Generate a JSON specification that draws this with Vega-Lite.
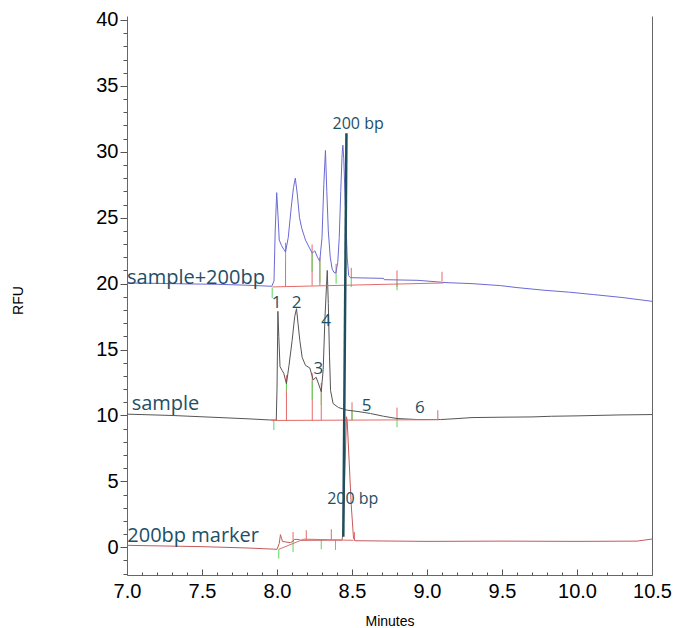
{
  "$schema": "https://vega.github.io/schema/vega-lite/v6.json",
  "width": 525,
  "height": 559,
  "autosize": {"type": "none"},
  "padding": {"left": 127, "top": 16, "right": 26, "bottom": 53},
  "background": "white",
  "config": {"view": {"stroke": null}, "axis": {"grid": false}},
  "resolve": {"axis": {"x": "independent", "y": "independent"}, "scale": {"color": "independent"}},
  "datasets": {
    "traces": [
      {"s": "plus", "t": 7.0, "v": 20.05}, {"s": "plus", "t": 7.2, "v": 20.02}, {"s": "plus", "t": 7.4, "v": 19.98}, {"s": "plus", "t": 7.6, "v": 19.95},
      {"s": "plus", "t": 7.8, "v": 19.88}, {"s": "plus", "t": 7.965, "v": 19.8}, {"s": "plus", "t": 7.98, "v": 20.2}, {"s": "plus", "t": 7.988, "v": 24.0},
      {"s": "plus", "t": 7.998, "v": 26.9}, {"s": "plus", "t": 8.005, "v": 25.5}, {"s": "plus", "t": 8.015, "v": 23.3}, {"s": "plus", "t": 8.03, "v": 22.9},
      {"s": "plus", "t": 8.045, "v": 22.6}, {"s": "plus", "t": 8.057, "v": 22.4}, {"s": "plus", "t": 8.075, "v": 23.5}, {"s": "plus", "t": 8.095, "v": 25.8},
      {"s": "plus", "t": 8.11, "v": 27.3}, {"s": "plus", "t": 8.122, "v": 28.0}, {"s": "plus", "t": 8.135, "v": 26.8}, {"s": "plus", "t": 8.15, "v": 25.0},
      {"s": "plus", "t": 8.165, "v": 24.2}, {"s": "plus", "t": 8.19, "v": 23.3}, {"s": "plus", "t": 8.217, "v": 22.7}, {"s": "plus", "t": 8.235, "v": 22.3},
      {"s": "plus", "t": 8.252, "v": 22.5}, {"s": "plus", "t": 8.27, "v": 22.0}, {"s": "plus", "t": 8.285, "v": 21.7}, {"s": "plus", "t": 8.3, "v": 23.5},
      {"s": "plus", "t": 8.312, "v": 27.5}, {"s": "plus", "t": 8.323, "v": 30.1}, {"s": "plus", "t": 8.332, "v": 27.0}, {"s": "plus", "t": 8.342, "v": 24.0},
      {"s": "plus", "t": 8.355, "v": 22.0}, {"s": "plus", "t": 8.368, "v": 21.1}, {"s": "plus", "t": 8.38, "v": 20.85}, {"s": "plus", "t": 8.392, "v": 20.8},
      {"s": "plus", "t": 8.405, "v": 21.6}, {"s": "plus", "t": 8.415, "v": 23.5}, {"s": "plus", "t": 8.425, "v": 27.0}, {"s": "plus", "t": 8.434, "v": 29.8},
      {"s": "plus", "t": 8.439, "v": 30.5}, {"s": "plus", "t": 8.445, "v": 29.5}, {"s": "plus", "t": 8.455, "v": 26.2}, {"s": "plus", "t": 8.468, "v": 22.0},
      {"s": "plus", "t": 8.478, "v": 20.6}, {"s": "plus", "t": 8.49, "v": 20.45}, {"s": "plus", "t": 8.71, "v": 20.4}, {"s": "plus", "t": 8.715, "v": 20.3},
      {"s": "plus", "t": 8.94, "v": 20.25}, {"s": "plus", "t": 9.14, "v": 20.07}, {"s": "plus", "t": 9.3, "v": 20.0}, {"s": "plus", "t": 9.49, "v": 19.85},
      {"s": "plus", "t": 9.6, "v": 19.7}, {"s": "plus", "t": 9.78, "v": 19.5}, {"s": "plus", "t": 9.95, "v": 19.35}, {"s": "plus", "t": 10.11, "v": 19.17},
      {"s": "plus", "t": 10.3, "v": 18.95}, {"s": "plus", "t": 10.5, "v": 18.66},

      {"s": "sample", "t": 7.0, "v": 10.1}, {"s": "sample", "t": 7.3, "v": 10.0}, {"s": "sample", "t": 7.6, "v": 9.85}, {"s": "sample", "t": 7.8, "v": 9.75},
      {"s": "sample", "t": 7.95, "v": 9.66}, {"s": "sample", "t": 7.995, "v": 9.65}, {"s": "sample", "t": 8.0, "v": 12.0}, {"s": "sample", "t": 8.006, "v": 17.9},
      {"s": "sample", "t": 8.012, "v": 16.0}, {"s": "sample", "t": 8.02, "v": 13.7}, {"s": "sample", "t": 8.035, "v": 13.4}, {"s": "sample", "t": 8.045, "v": 13.2},
      {"s": "sample", "t": 8.063, "v": 12.4}, {"s": "sample", "t": 8.08, "v": 13.8}, {"s": "sample", "t": 8.101, "v": 15.7}, {"s": "sample", "t": 8.118, "v": 17.5},
      {"s": "sample", "t": 8.13, "v": 18.1}, {"s": "sample", "t": 8.14, "v": 17.0}, {"s": "sample", "t": 8.152, "v": 15.7}, {"s": "sample", "t": 8.168, "v": 14.4},
      {"s": "sample", "t": 8.19, "v": 13.8}, {"s": "sample", "t": 8.219, "v": 13.6}, {"s": "sample", "t": 8.241, "v": 12.7}, {"s": "sample", "t": 8.261, "v": 12.9},
      {"s": "sample", "t": 8.28, "v": 12.3}, {"s": "sample", "t": 8.295, "v": 11.8}, {"s": "sample", "t": 8.308, "v": 13.5}, {"s": "sample", "t": 8.32, "v": 17.5},
      {"s": "sample", "t": 8.335, "v": 21.0}, {"s": "sample", "t": 8.342, "v": 18.5}, {"s": "sample", "t": 8.35, "v": 14.5}, {"s": "sample", "t": 8.357, "v": 11.9},
      {"s": "sample", "t": 8.374, "v": 10.9}, {"s": "sample", "t": 8.41, "v": 10.6}, {"s": "sample", "t": 8.468, "v": 10.4}, {"s": "sample", "t": 8.54, "v": 10.3},
      {"s": "sample", "t": 8.623, "v": 10.15}, {"s": "sample", "t": 8.71, "v": 9.94}, {"s": "sample", "t": 8.8, "v": 9.77}, {"s": "sample", "t": 8.935, "v": 9.69},
      {"s": "sample", "t": 9.09, "v": 9.69}, {"s": "sample", "t": 9.18, "v": 9.75}, {"s": "sample", "t": 9.3, "v": 9.84}, {"s": "sample", "t": 9.5, "v": 9.87},
      {"s": "sample", "t": 9.7, "v": 9.89}, {"s": "sample", "t": 9.83, "v": 9.94}, {"s": "sample", "t": 10.0, "v": 9.97}, {"s": "sample", "t": 10.28, "v": 10.04},
      {"s": "sample", "t": 10.5, "v": 10.07},

      {"s": "marker", "t": 7.0, "v": 0.15}, {"s": "marker", "t": 7.5, "v": 0.05}, {"s": "marker", "t": 7.8, "v": -0.05}, {"s": "marker", "t": 8.0, "v": -0.15},
      {"s": "marker", "t": 8.015, "v": 0.3}, {"s": "marker", "t": 8.023, "v": 0.96}, {"s": "marker", "t": 8.03, "v": 0.7}, {"s": "marker", "t": 8.036, "v": 0.45},
      {"s": "marker", "t": 8.06, "v": 0.4}, {"s": "marker", "t": 8.09, "v": 0.36}, {"s": "marker", "t": 8.105, "v": 0.45}, {"s": "marker", "t": 8.115, "v": 0.6},
      {"s": "marker", "t": 8.14, "v": 0.6}, {"s": "marker", "t": 8.16, "v": 0.53}, {"s": "marker", "t": 8.434, "v": 0.55}, {"s": "marker", "t": 8.442, "v": 1.4},
      {"s": "marker", "t": 8.463, "v": 9.9}, {"s": "marker", "t": 8.468, "v": 9.6}, {"s": "marker", "t": 8.495, "v": 3.2}, {"s": "marker", "t": 8.51, "v": 0.7},
      {"s": "marker", "t": 8.52, "v": 0.5}, {"s": "marker", "t": 9.0, "v": 0.45}, {"s": "marker", "t": 9.5, "v": 0.47}, {"s": "marker", "t": 10.0, "v": 0.45},
      {"s": "marker", "t": 10.4, "v": 0.47}, {"s": "marker", "t": 10.5, "v": 0.63},

      {"s": "base_plus", "t": 7.97, "v": 19.75}, {"s": "base_plus", "t": 9.11, "v": 20.05},
      {"s": "base_sample", "t": 7.965, "v": 9.62}, {"s": "base_sample", "t": 9.08, "v": 9.68},
      {"s": "base_marker", "t": 8.012, "v": -0.15}, {"s": "base_marker", "t": 8.179, "v": 0.62}, {"s": "base_marker", "t": 8.51, "v": 0.53}
    ],
    "std": [
      {"t": 8.442, "v": 0.8}, {"t": 8.463, "v": 31.4}
    ],
    "ticks": [
      {"k": "tick", "t": 7.968, "v": 19.7, "v2": 18.9},
      {"k": "drop", "t": 8.057, "v": 19.8, "v2": 23.1}, {"k": "tick", "t": 8.057, "v": 22.36, "v2": 21.65},
      {"k": "drop", "t": 8.234, "v": 19.85, "v2": 22.97}, {"k": "tick", "t": 8.234, "v": 22.3, "v2": 20.9},
      {"k": "drop", "t": 8.286, "v": 19.85, "v2": 22.0}, {"k": "tick", "t": 8.286, "v": 21.7, "v2": 20.1},
      {"k": "drop", "t": 8.394, "v": 20.8, "v2": 21.5}, {"k": "tick", "t": 8.394, "v": 20.8, "v2": 20.0},
      {"k": "drop", "t": 8.495, "v": 20.5, "v2": 21.2}, {"k": "tick", "t": 8.495, "v": 20.5, "v2": 19.75},
      {"k": "drop", "t": 8.8, "v": 19.75, "v2": 21.0}, {"k": "tick", "t": 8.8, "v": 20.1, "v2": 19.5},
      {"k": "drop", "t": 9.1, "v": 20.2, "v2": 20.9},

      {"k": "tick", "t": 7.979, "v": 9.6, "v2": 8.9},
      {"k": "drop", "t": 8.063, "v": 9.62, "v2": 13.05}, {"k": "tick", "t": 8.063, "v": 12.4, "v2": 11.9},
      {"k": "drop", "t": 8.235, "v": 9.63, "v2": 13.2}, {"k": "tick", "t": 8.235, "v": 12.6, "v2": 11.2},
      {"k": "drop", "t": 8.295, "v": 9.63, "v2": 12.47}, {"k": "tick", "t": 8.295, "v": 11.8, "v2": 10.8},
      {"k": "drop", "t": 8.5, "v": 9.64, "v2": 11.0}, {"k": "tick", "t": 8.5, "v": 10.4, "v2": 9.64},
      {"k": "drop", "t": 8.8, "v": 9.8, "v2": 10.6}, {"k": "tick", "t": 8.8, "v": 9.8, "v2": 9.1},
      {"k": "drop", "t": 9.072, "v": 9.68, "v2": 10.4},

      {"k": "tick", "t": 8.012, "v": -0.15, "v2": -0.86},
      {"k": "tick", "t": 8.107, "v": 0.45, "v2": -0.36}, {"k": "drop", "t": 8.107, "v": 0.4, "v2": 1.16},
      {"k": "drop", "t": 8.195, "v": 0.55, "v2": 1.3},
      {"k": "tick", "t": 8.295, "v": 0.55, "v2": -0.15},
      {"k": "drop", "t": 8.362, "v": 0.6, "v2": 1.37},
      {"k": "tick", "t": 8.39, "v": 0.55, "v2": -0.2},
      {"k": "drop", "t": 8.517, "v": 0.5, "v2": 1.15}
    ],
    "series_labels": [
      {"text": "sample+200bp", "t": 7.0, "v": 20.0},
      {"text": "sample", "t": 7.031, "v": 10.39},
      {"text": "200bp marker", "t": 7.002, "v": 0.42}
    ],
    "std_labels": [
      {"text": "200 bp", "t": 8.541, "v": 31.76},
      {"text": "200 bp", "t": 8.505, "v": 3.26}
    ],
    "peak_labels": [
      {"text": "1", "t": 7.998, "v": 18.5},
      {"text": "2", "t": 8.131, "v": 18.5},
      {"text": "3", "t": 8.275, "v": 13.56},
      {"text": "4", "t": 8.327, "v": 17.2},
      {"text": "5", "t": 8.598, "v": 10.7},
      {"text": "6", "t": 8.953, "v": 10.6}
    ]
  },
  "layer": [
    {
      "data": {"name": "ticks"},
      "mark": {"type": "rule", "strokeWidth": 1},
      "encoding": {
        "x": {"field": "t", "type": "quantitative", "scale": {"domain": [7, 10.5], "nice": false, "zero": false},
          "axis": {"orient": "bottom", "values": [7, 7.5, 8, 8.5, 9, 9.5, 10, 10.5], "labels": false, "domain": false, "ticks": true, "tickSize": -6, "tickColor": "#555", "title": null}},
        "y": {"field": "v", "type": "quantitative", "scale": {"domain": [-2.1, 40.3], "nice": false, "zero": false},
          "axis": {"orient": "left", "values": [-2, -1, 1, 2, 3, 4, 6, 7, 8, 9, 11, 12, 13, 14, 16, 17, 18, 19, 21, 22, 23, 24, 26, 27, 28, 29, 31, 32, 33, 34, 36, 37, 38, 39], "labels": false, "domain": false, "ticks": true, "tickSize": 4, "tickColor": "#555", "title": null}},
        "y2": {"field": "v2"},
        "color": {"field": "k", "type": "nominal", "scale": {"domain": ["drop", "tick"], "range": ["#e46a6a", "#5ad65a"]}, "legend": null}
      }
    },
    {
      "data": {"name": "traces"},
      "mark": {"type": "line", "strokeWidth": 1, "interpolate": "linear"},
      "encoding": {
        "x": {"field": "t", "type": "quantitative", "scale": {"domain": [7, 10.5], "nice": false, "zero": false},
          "axis": {"orient": "bottom", "values": [7, 7.5, 8, 8.5, 9, 9.5, 10, 10.5], "format": ".1f", "ticks": false, "domain": true, "domainColor": "#666", "labelPadding": 6,
            "labelFont": "Liberation Sans", "labelFontSize": 20, "labelColor": "#000", "labelFlush": false, "labelOverlap": false,
            "title": "Minutes", "titleFont": "Liberation Sans", "titleFontSize": 14, "titleFontWeight": "normal", "titleColor": "#000", "titleY": 46, "titleBaseline": "middle"}},
        "y": {"field": "v", "type": "quantitative", "scale": {"domain": [-2.1, 40.3], "nice": false, "zero": false},
          "axis": {"orient": "left", "values": [0, 5, 10, 15, 20, 25, 30, 35, 40], "ticks": true, "tickSize": 7, "tickColor": "#555", "domain": true, "domainColor": "#666", "labelPadding": 2,
            "labelFont": "Liberation Sans", "labelFontSize": 20, "labelColor": "#000", "labelFlush": false, "labelOverlap": false,
            "title": "RFU", "titleFont": "Liberation Sans", "titleFontSize": 14, "titleFontWeight": "normal", "titleColor": "#000", "titleX": -109, "titleY": 284, "titleAngle": 270, "titleBaseline": "middle", "titleAlign": "center"}},
        "detail": {"field": "s"},
        "color": {"field": "s", "type": "nominal", "scale": {"domain": ["base_plus", "base_sample", "base_marker", "marker", "sample", "plus"], "range": ["#e46a6a", "#e46a6a", "#d9706f", "#c45a5a", "#555555", "#6a6ad6"]}, "legend": null}
      }
    },
    {
      "data": {"name": "std"},
      "mark": {"type": "line", "strokeWidth": 2.5, "color": "#1f4e5c"},
      "encoding": {
        "x": {"field": "t", "type": "quantitative", "scale": {"domain": [7, 10.5], "nice": false, "zero": false}, "axis": null},
        "y": {"field": "v", "type": "quantitative", "scale": {"domain": [-2.1, 40.3], "nice": false, "zero": false}, "axis": null}
      }
    },
    {
      "data": {"name": "series_labels"},
      "mark": {"type": "text", "align": "left", "baseline": "alphabetic", "font": "Open Sans", "fontSize": 20, "color": "#1e4f66"},
      "encoding": {
        "x": {"field": "t", "type": "quantitative", "scale": {"domain": [7, 10.5], "nice": false, "zero": false},
          "axis": {"orient": "bottom", "values": [7.1, 7.2, 7.3, 7.4, 7.6, 7.7, 7.8, 7.9, 8.1, 8.2, 8.3, 8.4, 8.6, 8.7, 8.8, 8.9, 9.1, 9.2, 9.3, 9.4, 9.6, 9.7, 9.8, 9.9, 10.1, 10.2, 10.3, 10.4], "labels": false, "domain": false, "ticks": true, "tickSize": -3, "tickColor": "#555", "title": null}},
        "y": {"field": "v", "type": "quantitative", "scale": {"domain": [-2.1, 40.3], "nice": false, "zero": false},
          "axis": {"orient": "right", "labels": false, "ticks": false, "domain": true, "domainColor": "#666", "title": null, "grid": false}},
        "text": {"field": "text"}
      }
    },
    {
      "data": {"name": "std_labels"},
      "mark": {"type": "text", "align": "center", "baseline": "alphabetic", "font": "Open Sans", "fontSize": 16, "color": "#1e4f66"},
      "encoding": {
        "x": {"field": "t", "type": "quantitative", "scale": {"domain": [7, 10.5], "nice": false, "zero": false}, "axis": null},
        "y": {"field": "v", "type": "quantitative", "scale": {"domain": [-2.1, 40.3], "nice": false, "zero": false}, "axis": null},
        "text": {"field": "text"}
      }
    },
    {
      "data": {"name": "peak_labels"},
      "mark": {"type": "text", "align": "center", "baseline": "middle", "font": "Open Sans", "fontSize": 17, "color": "#1e4f66"},
      "encoding": {
        "x": {"field": "t", "type": "quantitative", "scale": {"domain": [7, 10.5], "nice": false, "zero": false}, "axis": null},
        "y": {"field": "v", "type": "quantitative", "scale": {"domain": [-2.1, 40.3], "nice": false, "zero": false}, "axis": null},
        "text": {"field": "text"}
      }
    }
  ]
}
